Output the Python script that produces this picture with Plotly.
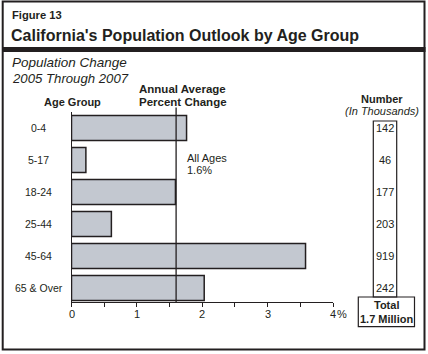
import plotly.graph_objects as go

W, H = 428, 354
FONT = "Liberation Sans, Arial, sans-serif"

categories = ["0-4", "5-17", "18-24", "25-44", "45-64", "65 & Over"]
pct_change = [1.76, 0.22, 1.59, 0.61, 3.58, 2.03]
numbers = ["142", "46", "177", "203", "919", "242"]
all_ages = 1.6
x_ticks = [0, 1, 2, 3, 4]
x_tick_labels = ["0", "1", "2", "3", "4"]
x_minor = [0.5, 1.5, 2.5, 3.5]

def px(x):
    return x / W

def py(y):
    return 1 - y / H

fc = "#231f20"

fig = go.Figure()
fig.add_trace(go.Bar(
    x=pct_change, y=categories, orientation="h",
    marker=dict(color="#c3c8d0", line=dict(color=fc, width=1.5)),
    width=0.78, hoverinfo="skip",
))

x0, x1 = 71.5, 333.0
ytop, ybot = 112.0, 302.0
fig.update_layout(
    width=W, height=H, margin=dict(l=0, r=0, t=0, b=0),
    paper_bgcolor="white", plot_bgcolor="white", showlegend=False,
    font=dict(family=FONT, color=fc, size=11),
    xaxis=dict(domain=[px(x0), px(x1)], range=[0, 4], tickvals=x_ticks,
               showticklabels=False, showgrid=False, zeroline=False,
               showline=True, linecolor=fc, linewidth=1.2,
               ticks="outside", ticklen=4, tickcolor=fc, tickwidth=1,
               minor=dict(tickvals=x_minor, ticks="outside", ticklen=4, tickcolor=fc)),
    yaxis=dict(domain=[py(ybot), py(ytop)], range=[5.44, -0.5], showticklabels=False,
               showgrid=False, zeroline=False, showline=True, linecolor=fc,
               linewidth=1.2, ticks=""),
)

shapes = []
shapes.append(dict(type="line", xref="x", yref="paper", x0=all_ages, x1=all_ages,
                   y0=py(ybot), y1=py(107.5), line=dict(color=fc, width=1.3)))
shapes.append(dict(type="rect", xref="paper", yref="paper", x0=px(2.7), x1=px(424.5),
                   y0=py(349.5), y1=py(1.5), line=dict(color=fc, width=2)))
shapes.append(dict(type="rect", xref="paper", yref="paper", x0=px(2), x1=px(425.5),
                   y0=py(52), y1=py(47), fillcolor=fc, line=dict(width=0)))
shapes.append(dict(type="rect", xref="paper", yref="paper", x0=px(373.3), x1=px(396.7),
                   y0=py(297), y1=py(121), line=dict(color=fc, width=1.2)))
shapes.append(dict(type="rect", xref="paper", yref="paper", x0=px(358.3), x1=px(414.5),
                   y0=py(326.7), y1=py(297), line=dict(color=fc, width=1.2)))
fig.update_layout(shapes=shapes)

ann = []
def text(x, y, t, size=11, bold=False, italic=False, xanchor="left"):
    s = t
    if bold:
        s = "<b>" + s + "</b>"
    if italic:
        s = "<i>" + s + "</i>"
    ann.append(dict(xref="paper", yref="paper", x=px(x), y=py(y), text=s, showarrow=False,
                    xanchor=xanchor, yanchor="middle", font=dict(size=size, family=FONT, color=fc)))

text(9.5, 14.5, "Figure 13", size=11.2, bold=True)
text(9, 35, "California's Population Outlook by Age Group", size=16, bold=True)
text(10, 62.5, "Population Change", size=13.5, italic=True)
text(10, 78.5, "2005 Through 2007", size=13.2, italic=True)
text(72, 101.5, "Age Group", size=11, bold=True, xanchor="center")
text(137, 89.5, "Annual Average", size=11.5, bold=True)
text(137, 102.5, "Percent Change", size=11.5, bold=True)
text(185, 158, "All Ages", size=11)
text(185, 170, "1.6%", size=11)
text(381.5, 99, "Number", size=11, bold=True, xanchor="center")
text(381.5, 110.5, "(In Thousands)", size=11, italic=True, xanchor="center")
text(386.5, 305, "Total", size=11, bold=True, xanchor="center")
text(386.5, 318.5, "1.7 Million", size=11, bold=True, xanchor="center")

for c, n in zip(categories, numbers):
    ann.append(dict(xref="paper", yref="y", x=px(38.5), y=c, text=c, showarrow=False,
                    xanchor="center", yanchor="middle", font=dict(size=10.5, family=FONT, color=fc)))
    ann.append(dict(xref="paper", yref="y", x=px(385), y=c, text=n, showarrow=False,
                    xanchor="center", yanchor="middle", font=dict(size=11, family=FONT, color=fc)))
for v, lab in zip(x_ticks, x_tick_labels):
    ann.append(dict(xref="x", yref="paper", x=v, y=py(313.5), text=lab, showarrow=False,
                    xanchor="center", yanchor="middle", font=dict(size=11, family=FONT, color=fc)))
ann.append(dict(xref="x", yref="paper", x=x_ticks[-1], y=py(313.5), text="%", showarrow=False,
                xanchor="left", yanchor="middle", xshift=2, font=dict(size=11, family=FONT, color=fc)))
fig.update_layout(annotations=ann)

fig.write_html("out.html")
